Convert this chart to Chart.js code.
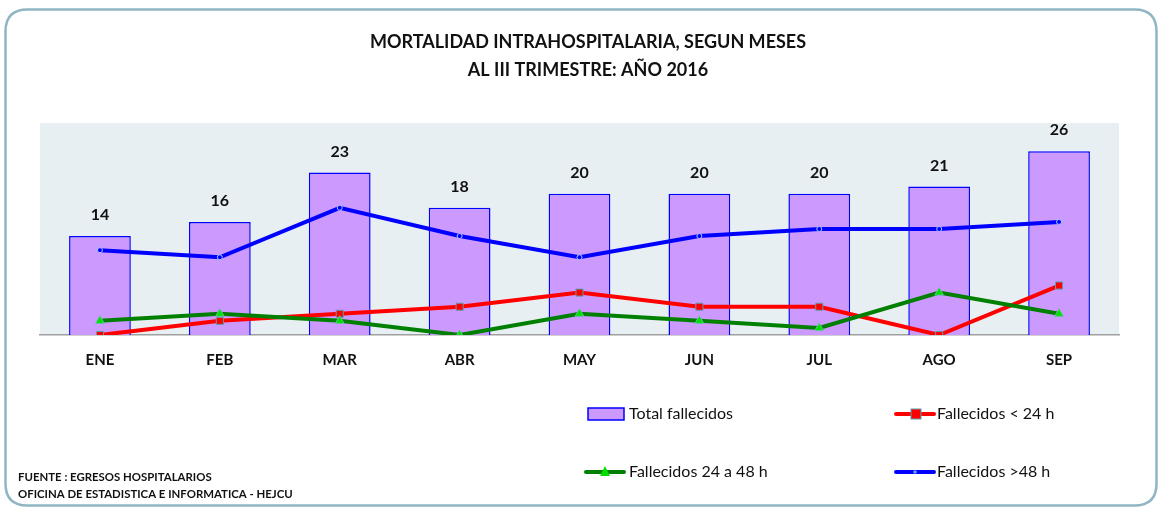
<!DOCTYPE html>
<html>
<head>
<meta charset="utf-8">
<script src="https://cdn.jsdelivr.net/npm/chart.js@4.4.1/dist/chart.umd.min.js"></script>
<style>
html,body{margin:0;padding:0;background:#fff;}
#wrap{position:relative;width:1161px;height:510px;}
canvas{display:block;}
</style>
</head>
<body>
<div id="wrap"><canvas id="c" width="1161" height="510"></canvas></div>
<script>
const categories = ["ENE","FEB","MAR","ABR","MAY","JUN","JUL","AGO","SEP"];
const totalFallecidos = [14,16,23,18,20,20,20,21,26];
const fallecidosMenos24 = [0,2,3,4,6,4,4,0,7];
const fallecidos24a48 = [2,3,2,0,3,2,1,6,3];
const fallecidosMas48 = [12,11,18,14,11,14,15,15,16];
const titleLines = ["MORTALIDAD INTRAHOSPITALARIA, SEGUN MESES","AL III TRIMESTRE: AÑO 2016"];
const footLines = ["FUENTE : EGRESOS HOSPITALARIOS","OFICINA DE ESTADISTICA E INFORMATICA - HEJCU"];
const seriesLabels = ["Total fallecidos","Fallecidos < 24 h","Fallecidos 24 a 48 h","Fallecidos >48 h"];

const FONT = "Lato, 'Open Sans', sans-serif";

function roundRect(ctx,x,y,w,h,r){
  ctx.beginPath();
  ctx.moveTo(x+r,y);
  ctx.lineTo(x+w-r,y);
  ctx.quadraticCurveTo(x+w,y,x+w,y+r);
  ctx.lineTo(x+w,y+h-r);
  ctx.quadraticCurveTo(x+w,y+h,x+w-r,y+h);
  ctx.lineTo(x+r,y+h);
  ctx.quadraticCurveTo(x,y+h,x,y+h-r);
  ctx.lineTo(x,y+r);
  ctx.quadraticCurveTo(x,y,x+r,y);
  ctx.closePath();
}

const decor = {
  id:'decor',
  beforeDraw(chart){
    const ctx = chart.ctx, a = chart.chartArea;
    ctx.save();
    ctx.fillStyle='#ffffff';
    ctx.fillRect(0,0,chart.width,chart.height);
    roundRect(ctx,5.5,9.5,1151,496,22);
    ctx.strokeStyle='#8fb6c2';
    ctx.lineWidth=2.5;
    ctx.stroke();
    ctx.fillStyle='#e8eff3';
    ctx.fillRect(a.left,a.top,a.right-a.left,a.bottom-a.top);
    // title
    ctx.fillStyle='#111111';
    ctx.font="bold 18px "+FONT;
    ctx.textAlign='center';
    ctx.textBaseline='middle';
    ctx.fillText(titleLines[0],588,42);
    ctx.fillText(titleLines[1],588,70);
    // footnote
    ctx.font="bold 11.4px "+FONT;
    ctx.textAlign='left';
    ctx.fillText(footLines[0],18,477);
    ctx.fillText(footLines[1],18,494);
    ctx.restore();
  },
  afterDatasetsDraw(chart){
    const ctx = chart.ctx;
    const idx = chart.data.datasets.findIndex(d=>d.type==='bar');
    const meta = chart.getDatasetMeta(idx);
    ctx.save();
    ctx.fillStyle='#111111';
    ctx.font="bold 16px "+FONT;
    ctx.textAlign='center';
    ctx.textBaseline='middle';
    meta.data.forEach((bar,i)=>{
      ctx.fillText(String(totalFallecidos[i]), bar.x, bar.y-21);
    });
    ctx.restore();
  },
  afterDraw(chart){
    const ctx = chart.ctx;
    ctx.save();
    ctx.font="16px "+FONT;
    ctx.textBaseline='middle';
    ctx.textAlign='left';
    // Total fallecidos swatch
    ctx.fillStyle='#cc99ff';
    ctx.fillRect(588,408,36,12);
    ctx.strokeStyle='#0000ff';ctx.lineWidth=1.5;
    ctx.strokeRect(588,408,36,12);
    ctx.fillStyle='#111111';
    ctx.fillText(seriesLabels[0],629,414);
    // red
    ctx.strokeStyle='#ff0000';ctx.lineWidth=4;ctx.lineCap='round';
    ctx.beginPath();ctx.moveTo(896,414);ctx.lineTo(934,414);ctx.stroke();
    ctx.fillStyle='#ff0000';ctx.fillRect(911,409,10,10);
    ctx.strokeStyle='#5aa0b0';ctx.lineWidth=1;ctx.strokeRect(911,409,10,10);
    ctx.fillStyle='#111111';
    ctx.fillText(seriesLabels[1],937,414);
    // green
    ctx.strokeStyle='#008000';ctx.lineWidth=4;
    ctx.beginPath();ctx.moveTo(586,472);ctx.lineTo(624,472);ctx.stroke();
    ctx.fillStyle='#00e000';
    ctx.beginPath();ctx.moveTo(605,466);ctx.lineTo(610,476);ctx.lineTo(600,476);ctx.closePath();ctx.fill();
    ctx.fillStyle='#111111';
    ctx.fillText(seriesLabels[2],629,472);
    // blue
    ctx.strokeStyle='#0000ff';ctx.lineWidth=4;
    ctx.beginPath();ctx.moveTo(896,472);ctx.lineTo(934,472);ctx.stroke();
    ctx.fillStyle='#6aa8ff';
    ctx.beginPath();ctx.arc(915,472,1.8,0,Math.PI*2);ctx.fill();
    ctx.fillStyle='#111111';
    ctx.fillText(seriesLabels[3],937,472);
    ctx.restore();
  }
};

new Chart(document.getElementById('c'),{
  data:{
    labels:categories,
    datasets:[
      {type:'line',label:seriesLabels[3],data:fallecidosMas48,borderColor:'#0000ff',borderWidth:4,
       pointStyle:'circle',pointRadius:2.5,pointBackgroundColor:'#0000ff',pointBorderColor:'#a8c8ff',pointBorderWidth:1,
       tension:0,order:1},
      {type:'line',label:seriesLabels[2],data:fallecidos24a48,borderColor:'#008000',borderWidth:4,
       pointStyle:'triangle',pointRadius:5,pointBackgroundColor:'#00e000',pointBorderColor:'#66c0a0',pointBorderWidth:1,
       tension:0,order:2},
      {type:'line',label:seriesLabels[1],data:fallecidosMenos24,borderColor:'#ff0000',borderWidth:4,
       pointStyle:'rect',pointRadius:5,pointBackgroundColor:'#ff0000',pointBorderColor:'#5aa0b0',pointBorderWidth:1,
       tension:0,order:3},
      {type:'bar',label:seriesLabels[0],data:totalFallecidos,backgroundColor:'#cc99ff',borderColor:'#0000ff',borderWidth:1.5,
       barPercentage:0.515,categoryPercentage:1,order:4}
    ]
  },
  options:{
    responsive:false,
    animation:false,
    devicePixelRatio:1,
    layout:{padding:{left:40,right:42,top:123,bottom:0}},
    plugins:{legend:{display:false},tooltip:{enabled:false},title:{display:false}},
    scales:{
      x:{
        grid:{display:false,drawTicks:false},
        border:{display:true,color:'#a0a0a0',width:1.5},
        ticks:{color:'#111111',font:{family:FONT,size:15,weight:'bold'},padding:16},
        afterFit(s){s.height=175;}
      },
      y:{display:false,min:0,max:30}
    }
  },
  plugins:[decor]
});
</script>
</body>
</html>
